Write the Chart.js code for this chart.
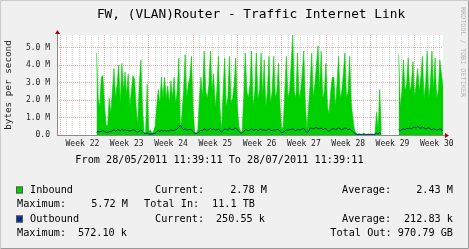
<!DOCTYPE html>
<html>
<head>
<meta charset="utf-8">
<script src="https://cdn.jsdelivr.net/npm/chart.js@4"></script>
<style>
  html, body { margin: 0; padding: 0; background: #F0F0F0; }
  #wrap { width: 469px; height: 249px; }
</style>
</head>
<body>
<div id="wrap"><canvas id="graph" width="469" height="249"></canvas></div>
<script>
// time axis in hours from 28/05/2011 11:39:11 to 28/07/2011 11:39:11
const totalHours = 1464;
const firstMidnight = 12.347;      // Sun 29/05 00:00
const firstLabel = 96.347;         // Wed 01/06 12:00 (middle of week 22)
const weekLabels = ["Week 22", "Week 23", "Week 24", "Week 25", "Week 26", "Week 27", "Week 28", "Week 29", "Week 30"];
const yLabels = ["0.0", "1.0 M", "2.0 M", "3.0 M", "4.0 M", "5.0 M"];

// samples every 6 hours, starting at hour 150 (values in M bytes/s)
const startHour = 150;
const stepHours = 6;
const inbound = [
    4.7, 2.1, 1.6, 3.3, 3.4, 1.8, 0.6, 0.5, 2.1, 1.2, 2.5, 3.8, 2.1, 2.9, 4.0, 1.8,
    4.1, 2.5, 3.6, 2.3, 3.5, 1.6, 2.5, 3.4, 3.2, 1.6, 0.6, 2.9, 4.3, 1.6, 0.2, 0.1,
    2.9, 0.2, 0.3, 0.1, 0.2, 0.5, 1.6, 2.6, 1.8, 3.3, 2.1, 3.3, 2.1, 2.8, 1.8, 3.1,
    2.1, 3.3, 1.8, 2.5, 4.4, 0.3, 1.2, 2.5, 4.6, 2.1, 2.9, 3.3, 4.5, 1.6, 0.2, 0.1,
    0.3, 2.1, 3.3, 2.1, 4.8, 2.5, 2.1, 2.9, 4.8, 2.5, 3.5, 1.6, 2.5, 4.5, 1.6, 0.2,
    2.5, 4.4, 1.6, 2.1, 4.5, 1.8, 2.1, 2.9, 4.4, 1.6, 0.5, 0.2, 0.2, 2.1, 4.7, 2.5,
    2.1, 2.9, 4.8, 1.6, 2.5, 4.7, 2.1, 2.5, 4.7, 2.1, 4.3, 1.6, 2.5, 4.5, 1.8, 2.5,
    4.5, 2.1, 2.5, 4.1, 1.6, 0.3, 0.5, 2.5, 4.5, 2.1, 2.5, 4.0, 5.72, 2.5, 2.1, 4.7,
    2.1, 2.5, 3.5, 4.8, 1.8, 0.3, 1.6, 2.9, 4.7, 2.1, 2.9, 4.0, 5.1, 2.5, 4.8, 2.1,
    2.5, 4.1, 1.6, 1.2, 2.5, 3.3, 3.3, 1.6, 2.9, 4.5, 2.1, 2.5, 3.5, 4.7, 2.1, 2.5,
    4.5, 1.8, 1.0, 0.3, 0.1, 0.05, 0.08, 0.04, 0.06, 0.1, 0.05, 0.04, 0.07, 0.05, 0.06, 0.05,
    0.08, 1.3, 0.3, 2.6, 0.2, null, null, null, null, null, null, null, null, null, null,
    4.6, 1.6, 2.5, 4.3, 2.5, 2.9, 4.4, 2.5, 2.9, 4.2, 2.1, 2.9, 3.8, 2.5, 3.3, 4.5,
    2.1, 2.9, 4.8, 2.1, 2.9, 4.8, 2.5, 4.4, 2.1, 2.5, 4.3, 3.5, 2.78
];
const outbound = [
    0.15, 0.2, 0.18, 0.22, 0.25, 0.2, 0.15, 0.12, 0.2, 0.18, 0.25, 0.3, 0.22, 0.28, 0.3, 0.25,
    0.32, 0.28, 0.3, 0.25, 0.28, 0.22, 0.25, 0.3, 0.28, 0.2, 0.15, 0.22, 0.3, 0.2, 0.1, 0.08,
    0.12, 0.05, 0.06, 0.05, 0.08, 0.1, 0.18, 0.25, 0.2, 0.28, 0.22, 0.26, 0.2, 0.25, 0.22, 0.3,
    0.25, 0.28, 0.3, 0.35, 0.45, 0.57, 0.4, 0.3, 0.35, 0.28, 0.3, 0.32, 0.3, 0.2, 0.1, 0.08,
    0.12, 0.2, 0.28, 0.25, 0.35, 0.3, 0.28, 0.32, 0.38, 0.3, 0.35, 0.28, 0.3, 0.35, 0.25, 0.15,
    0.25, 0.35, 0.3, 0.28, 0.4, 0.32, 0.3, 0.35, 0.4, 0.3, 0.2, 0.12, 0.1, 0.2, 0.3, 0.28,
    0.25, 0.3, 0.35, 0.28, 0.3, 0.32, 0.25, 0.3, 0.35, 0.28, 0.3, 0.25, 0.3, 0.35, 0.28, 0.25,
    0.3, 0.28, 0.3, 0.32, 0.22, 0.12, 0.15, 0.22, 0.3, 0.28, 0.3, 0.32, 0.35, 0.3, 0.25, 0.32,
    0.28, 0.3, 0.35, 0.38, 0.25, 0.15, 0.2, 0.4, 0.38, 0.35, 0.4, 0.42, 0.38, 0.35, 0.4, 0.3,
    0.35, 0.38, 0.25, 0.2, 0.3, 0.35, 0.38, 0.3, 0.35, 0.4, 0.35, 0.3, 0.35, 0.4, 0.38, 0.3,
    0.35, 0.25, 0.2, 0.1, 0.05, 0.03, 0.02, 0.03, 0.02, 0.04, 0.03, 0.02, 0.03, 0.02, 0.03, 0.02,
    0.03, 0.1, 0.05, 0.15, 0.05, null, null, null, null, null, null, null, null, null, null,
    0.3, 0.25, 0.3, 0.35, 0.3, 0.38, 0.35, 0.4, 0.35, 0.42, 0.45, 0.4, 0.48, 0.42, 0.38, 0.45,
    0.4, 0.35, 0.38, 0.42, 0.35, 0.3, 0.35, 0.32, 0.28, 0.3, 0.35, 0.3, 0.25
];

const legendRows = [
    { y: 190, box: "#00CF00", items: [["Inbound", 30, "left"], ["Current:", 155, "left"], ["2.78 M", 267, "right"], ["Average:", 342, "left"], ["2.43 M", 453, "right"]] },
    { y: 204.5, items: [["Maximum:", 17, "left"], ["5.72 M", 128, "right"], ["Total In:", 144, "left"], ["11.1 TB", 255, "right"]] },
    { y: 219, box: "#002A97", items: [["Outbound", 30, "left"], ["Current:", 155, "left"], ["250.55 k", 265, "right"], ["Average:", 342, "left"], ["212.83 k", 453, "right"]] },
    { y: 233.5, items: [["Maximum:", 17, "left"], ["572.10 k", 127, "right"], ["Total Out: 970.79 GB", 453, "right"]] },
];

const mono = "DejaVu Sans Mono";
const toPoints = arr => arr.map((v, i) => ({ x: startHour + i * stepHours, y: v }));

const dayLines = [];
for (let h = firstMidnight; h <= totalHours; h += 24) dayLines.push(h);
const labelHours = weekLabels.map((l, i) => firstLabel + i * 168);
const isWeekLine = v => Math.abs(((v - firstMidnight) / 24) % 7) < 0.01;

const rrdFrame = {
    id: "rrdFrame",
    beforeDraw(chart) {
        const c = chart.ctx, a = chart.chartArea;
        c.save();
        c.fillStyle = "#F0F0F0";
        c.fillRect(0, 0, chart.width, chart.height);
        c.fillStyle = "#FFFFFF";
        c.fillRect(a.left, a.top, a.right - a.left, a.bottom - a.top);
        // shade border
        c.lineWidth = 1;
        c.strokeStyle = "#CBCBCB";
        c.beginPath(); c.moveTo(0.5, 248); c.lineTo(0.5, 0.5); c.lineTo(468, 0.5); c.stroke();
        c.strokeStyle = "#999999";
        c.beginPath(); c.moveTo(468.5, 0.5); c.lineTo(468.5, 248.5); c.lineTo(0.5, 248.5); c.stroke();
        c.restore();
    },
    afterDraw(chart) {
        const c = chart.ctx, a = chart.chartArea;
        c.save();
        // axes
        c.strokeStyle = "#8A8A8A";
        c.lineWidth = 1;
        c.beginPath();
        c.moveTo(a.left + 0.5, a.bottom + 0.5); c.lineTo(a.left + 0.5, a.top - 2);
        c.moveTo(a.left, a.bottom + 0.5); c.lineTo(a.right + 3, a.bottom + 0.5);
        c.stroke();
        c.fillStyle = "#B00000";
        c.beginPath();
        c.moveTo(a.left + 0.5, a.top - 5); c.lineTo(a.left - 2, a.top - 1); c.lineTo(a.left + 3, a.top - 1);
        c.closePath(); c.fill();
        c.beginPath();
        c.moveTo(a.right + 6, a.bottom + 0.5); c.lineTo(a.right + 2, a.bottom - 2); c.lineTo(a.right + 2, a.bottom + 3);
        c.closePath(); c.fill();

        c.fillStyle = "#000000";
        c.textBaseline = "middle";
        // title
        c.font = `12.8px "${mono}"`;
        c.textAlign = "center";
        c.fillText("FW, (VLAN)Router - Traffic Internet Link", 251, 15);
        // period
        c.font = `10.2px "${mono}"`;
        c.fillText("From 28/05/2011 11:39:11 To 28/07/2011 11:39:11", 219.5, 160);
        // vertical label
        c.save();
        c.translate(8.5, 85);
        c.rotate(-Math.PI / 2);
        c.font = `9.3px "${mono}"`;
        c.fillStyle = "#222222";
        c.fillText("bytes per second", 0, 0);
        c.restore();
        // watermark
        c.save();
        c.translate(462.5, 52);
        c.rotate(Math.PI / 2);
        c.font = `6.8px "${mono}"`;
        c.fillStyle = "#B4B4B4";
        c.fillText("RRDTOOL / TOBI OETIKER", 0, 0);
        c.restore();
        // legend
        c.font = `10.2px "${mono}"`;
        legendRows.forEach(row => {
            if (row.box) {
                c.fillStyle = row.box;
                c.fillRect(16, row.y - 3.5, 7, 7);
                c.strokeStyle = "#555555";
                c.strokeRect(16.5, row.y - 3, 6, 6);
            }
            c.fillStyle = "#000000";
            row.items.forEach(([t, x, al]) => {
                c.textAlign = al;
                c.fillText(t, x, row.y);
            });
        });
        c.restore();
    }
};

const ctx = document.getElementById("graph").getContext("2d");
const graph = new Chart(ctx, {
    type: "line",
    data: {
        datasets: [
            {
                label: "Inbound",
                data: toPoints(inbound),
                fill: "origin",
                backgroundColor: "#00CF00",
                borderColor: "#00CF00",
                borderWidth: 0.6,
                pointRadius: 0,
                tension: 0,
                order: 2,
            },
            {
                label: "Outbound",
                data: toPoints(outbound),
                fill: false,
                borderColor: "#002A97",
                borderWidth: 1,
                pointRadius: 0,
                tension: 0,
                order: 1,
            },
        ],
    },
    options: {
        responsive: false,
        animation: false,
        devicePixelRatio: 1,
        layout: { padding: { top: 35, right: 26, bottom: 0, left: 0 } },
        plugins: { legend: { display: false }, tooltip: { enabled: false } },
        scales: {
            x: {
                type: "linear",
                min: 0,
                max: totalHours,
                afterBuildTicks: s => { s.ticks = dayLines.map(v => ({ value: v })); },
                afterFit: s => { s.height = 0; },
                ticks: { display: false },
                grid: {
                    drawTicks: false,
                    lineWidth: 1,
                    color: c => isWeekLine(c.tick.value) ? "rgba(230,60,60,0.45)" : "rgba(140,140,140,0.35)",
                },
                border: { display: false, dash: [1, 1] },
            },
            xl: {
                type: "linear",
                position: "bottom",
                min: 0,
                max: totalHours,
                afterBuildTicks: s => { s.ticks = labelHours.map(v => ({ value: v })); },
                afterFit: s => { s.height = 114; },
                ticks: {
                    callback: (v, i) => weekLabels[i],
                    autoSkip: false,
                    maxRotation: 0,
                    padding: 4,
                    color: "#222222",
                    font: { family: mono, size: 8 },
                },
                grid: { display: false, drawTicks: false },
                border: { display: false },
            },
            y: {
                min: 0,
                max: 5.72,
                afterBuildTicks: s => {
                    const t = [];
                    for (let v = 0; v <= 5.5; v += 0.5) t.push({ value: v });
                    s.ticks = t;
                },
                afterFit: s => { s.width = 57; },
                ticks: {
                    callback: v => Number.isInteger(v) ? yLabels[v] : "",
                    padding: 7,
                    color: "#222222",
                    font: { family: mono, size: 8 },
                },
                grid: {
                    drawTicks: false,
                    lineWidth: 1,
                    color: c => Number.isInteger(c.tick.value) ? "rgba(230,60,60,0.45)" : "rgba(140,140,140,0.35)",
                },
                border: { display: false, dash: [1, 1] },
            },
        },
    },
    plugins: [rrdFrame],
});
</script>
</body>
</html>
